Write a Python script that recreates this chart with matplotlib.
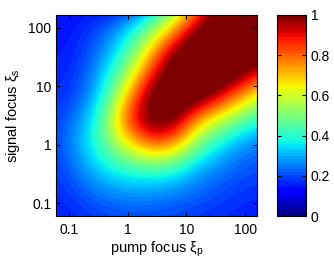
import matplotlib
matplotlib.use('Agg')
import matplotlib.pyplot as plt
import numpy as np

plt.rcParams['font.family'] = ['Liberation Sans', 'DejaVu Sans']
plt.rcParams['mathtext.default'] = 'regular'

# grid nodes, log10 of the focus parameters
pump_log = [-1.2, -0.8, -0.4, 0.0, 0.4, 0.8, 1.2, 1.6, 2.0, 2.4]
signal_log = [-1.2, -0.8, -0.4, 0.0, 0.4, 0.8, 1.2, 1.6, 2.0, 2.4]

# efficiency, one row per signal value (bottom to top)
eff = [
    [0.15, 0.17, 0.19, 0.20, 0.20, 0.19, 0.18, 0.17, 0.16, 0.14],
    [0.17, 0.21, 0.26, 0.28, 0.28, 0.26, 0.23, 0.20, 0.18, 0.18],
    [0.18, 0.26, 0.36, 0.41, 0.43, 0.40, 0.30, 0.25, 0.21, 0.20],
    [0.19, 0.31, 0.45, 0.62, 0.80, 0.74, 0.47, 0.35, 0.26, 0.24],
    [0.18, 0.28, 0.46, 0.85, 1.05, 1.02, 0.70, 0.55, 0.43, 0.35],
    [0.17, 0.21, 0.39, 0.72, 1.05, 1.12, 1.05, 0.88, 0.68, 0.54],
    [0.16, 0.19, 0.33, 0.55, 0.89, 1.12, 1.18, 1.12, 0.98, 0.82],
    [0.15, 0.17, 0.27, 0.42, 0.69, 1.00, 1.15, 1.18, 1.15, 1.06],
    [0.14, 0.16, 0.21, 0.33, 0.50, 0.72, 1.00, 1.15, 1.20, 1.18],
    [0.14, 0.14, 0.13, 0.11, 0.26, 0.45, 0.75, 1.02, 1.15, 1.20],
]

tick_vals = [-1, 0, 1, 2]
tick_labels = ['0.1', '1', '10', '100']
cbar_ticks = [0, 0.2, 0.4, 0.6, 0.8, 1]
cbar_labels = ['0', '0.2', '0.4', '0.6', '0.8', '1']

fig = plt.figure(figsize=(3.34, 2.6), dpi=100)
ax = fig.add_axes([56/334, 44/260, 201/334, 201/260])
cax = fig.add_axes([277/334, 44/260, 29/334, 201/260])

step = pump_log[1] - pump_log[0]
extent = [pump_log[0] - step/2, pump_log[-1] + step/2,
          signal_log[0] - step/2, signal_log[-1] + step/2]
cmap = plt.get_cmap('jet', 64)
im = ax.imshow(np.array(eff), origin='lower', extent=extent, cmap=cmap,
               vmin=0, vmax=1, interpolation='bicubic',
               interpolation_stage='data', aspect='auto')
ax.set_xlim(-1.22, 2.2)
ax.set_ylim(-1.22, 2.22)

ax.set_xticks(tick_vals)
ax.set_xticklabels(tick_labels)
ax.set_yticks(tick_vals)
ax.set_yticklabels(tick_labels)
ax.tick_params(direction='in', top=True, right=True, length=3, labelsize=10, width=0.8)
ax.tick_params(axis='x', pad=5)
ax.set_xlabel(r'pump focus $\xi_p$', fontsize=10.5, labelpad=2)
ax.set_ylabel(r'signal focus $\xi_s$', fontsize=10.5, labelpad=4)
for s in ax.spines.values():
    s.set_linewidth(0.8)

cb = fig.colorbar(im, cax=cax, ticks=cbar_ticks)
cb.ax.set_yticklabels(cbar_labels)
cb.ax.tick_params(direction='in', left=True, right=True, length=3, labelsize=10, width=0.8)
cb.outline.set_linewidth(0.8)

fig.savefig('out.png', dpi=100, facecolor='white')
